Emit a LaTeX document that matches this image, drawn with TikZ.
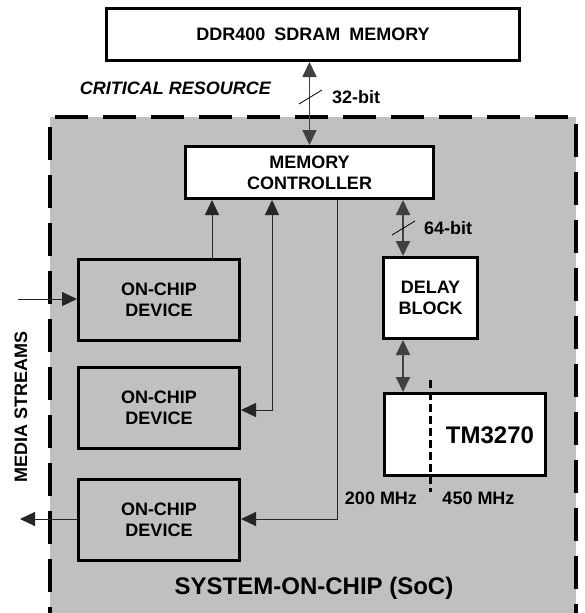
\documentclass[tikz,border=0pt]{standalone}
\usepackage{fontspec}
\setmainfont{Liberation Sans}
\usetikzlibrary{arrows.meta}
\definecolor{socgray}{HTML}{C0C0C0}
\begin{document}
\begin{tikzpicture}[x=1pt,y=-1pt,
  box/.style={draw, line width=3pt, fill=white, inner sep=0pt, align=center,
    font=\bfseries\fontsize{18}{21}\selectfont},
  dev/.style={box, fill=socgray, minimum width=161pt, minimum height=81pt},
  lbl/.style={font=\bfseries\fontsize{18}{21}\selectfont, inner sep=0pt},
  big/.style={font=\bfseries\fontsize{24}{28}\selectfont, inner sep=0pt},
  tip/.style={-{Triangle[length=15pt,width=14pt]}},
  conn/.style={line width=1pt, draw=black!85},
  bus/.style={line width=1.8pt, draw=black!75,
    {Triangle[length=15pt,width=14pt]}-{Triangle[length=15pt,width=14pt]}},
  slash/.style={line width=0.8pt, draw=black},
  socline/.style={line width=4pt, dash pattern=on 33pt off 15pt},
  tmdash/.style={line width=3pt, dash pattern=on 8pt off 4pt}
 ]
\clip (0,0) rectangle (584,613);
\fill[white] (0,0) rectangle (584,613);

% system-on-chip area
\fill[socgray] (50,117) rectangle (576,640);
\draw[socline] (50,640) -- (50,117) -- (576,117) -- (576,640);

% blocks
\node[box, minimum width=413pt, minimum height=52pt] (ddr) at (313,34.5)
  {DDR400\hspace{0.5em}SDRAM\hspace{0.5em}MEMORY};
\node[box, minimum width=248pt, minimum height=52pt] (mc) at (309.5,172.5)
  {MEMORY\\CONTROLLER};
\node[box, minimum width=94pt, minimum height=81pt] (delay) at (430.5,298)
  {DELAY\\BLOCK};
\node[box, minimum width=161pt, minimum height=82pt] (tm) at (465,434.5) {};
\node[big] (tmlbl) at (490,435) {TM3270};
\node[dev] (dev1) at (159,300) {ON-CHIP\\DEVICE};
\node[dev] (dev2) at (159,408) {ON-CHIP\\DEVICE};
\node[dev] (dev3) at (159,520) {ON-CHIP\\DEVICE};

% clock domain split
\coordinate (ck1) at (430,380);
\coordinate (ck2) at (430,492);
\draw[tmdash] (ck1) -- (ck2);

% helper columns
\coordinate (c1) at (212,0);
\coordinate (c2) at (272,410);
\coordinate (c3) at (337,519);
\coordinate (c4) at (403,0);
\coordinate (min) at (18,299);
\coordinate (mout) at (20,519);

% connectors
\draw[bus] (mc.north |- ddr.south) -- (mc.north);
\draw[slash] (299,104) -- (322,90);
\draw[conn, tip] (dev1.north -| c1) -- (mc.south -| c1);
\draw[conn, {Triangle[length=15pt,width=14pt]}-{Triangle[length=15pt,width=14pt]}]
  (mc.south -| c2) -- (c2) -- (dev2.east |- c2);
\draw[conn, tip] (mc.south -| c3) -- (c3) -- (dev3.east |- c3);
\draw[bus] (mc.south -| c4) -- (delay.north -| c4);
\draw[slash] (392,235) -- (415,221);
\draw[bus] (delay.south -| c4) -- (tm.north -| c4);
\draw[conn, tip] (min) -- (dev1.west |- min);
\draw[conn, tip] (dev3.west |- mout) -- (mout);

% labels
\node[lbl] (l32) at (356,97) {32-bit};
\node[lbl] (l64) at (448,228) {64-bit};
\node[lbl] (f200) at (381,498) {200 MHz};
\node[lbl] (f450) at (478.5,498) {450 MHz};
\node[lbl, font=\bfseries\itshape\fontsize{18}{21}\selectfont] (crit) at (175.5,88)
  {CRITICAL RESOURCE};
\node[big] (soc) at (314,588) {SYSTEM-ON-CHIP (SoC)};
\node[lbl, rotate=90] (media) at (21,407) {MEDIA STREAMS};
\end{tikzpicture}
\end{document}
